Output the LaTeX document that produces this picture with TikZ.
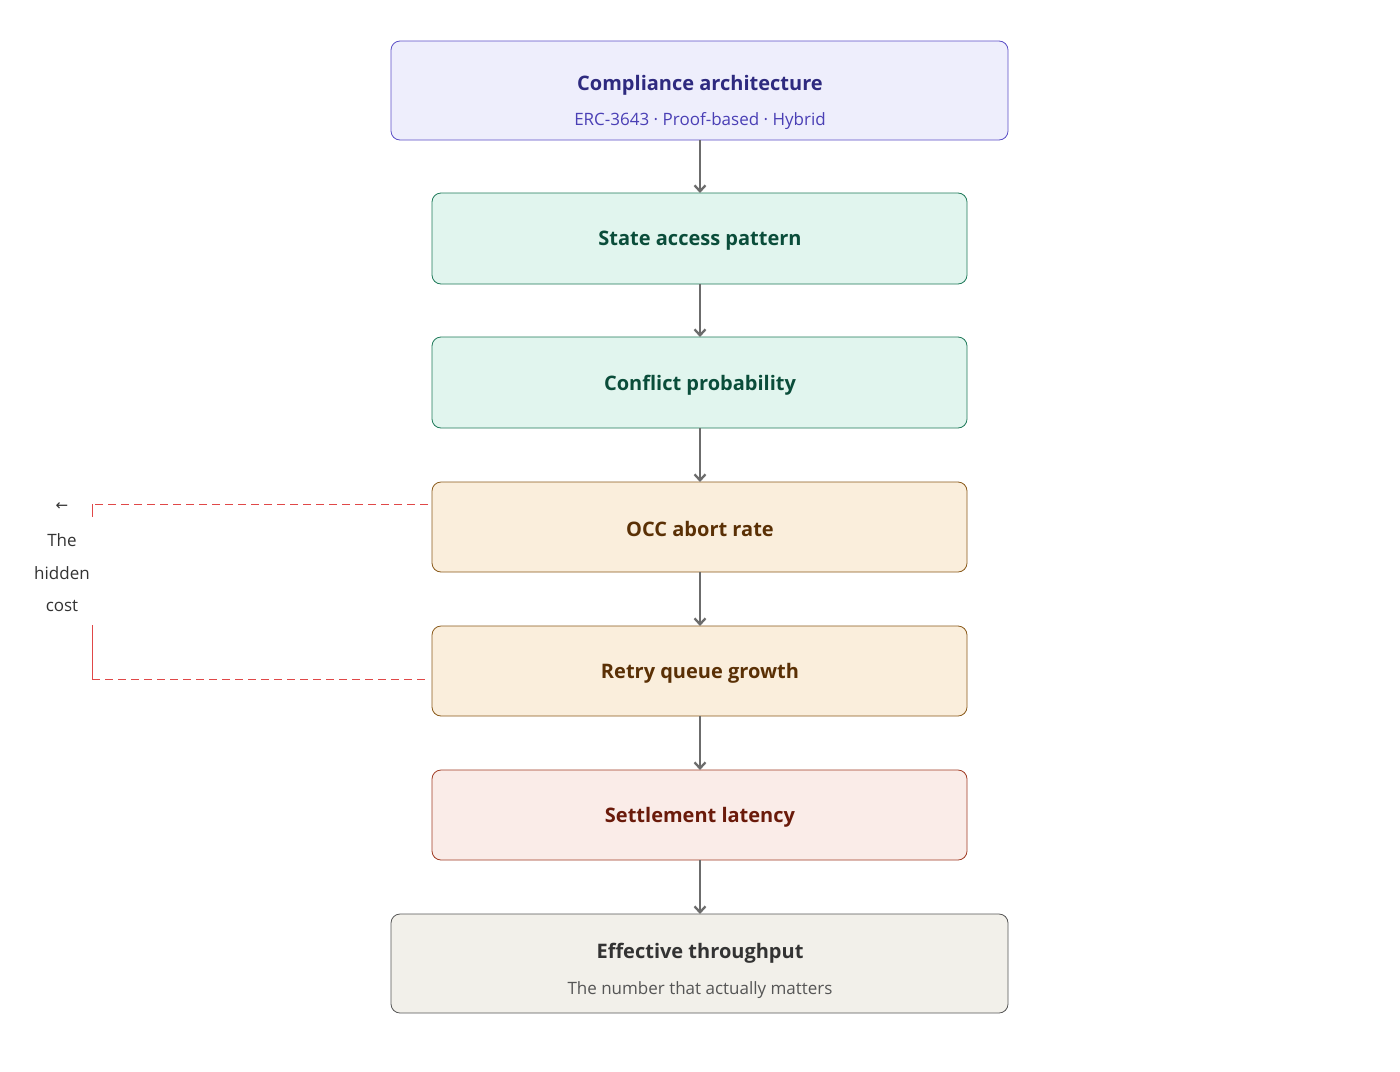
\documentclass[tikz,border=0pt]{standalone}
\usepackage{fontspec}
\setmainfont{Open Sans}
\newfontfamily\dv{DejaVu Sans}
\usetikzlibrary{arrows.meta}
\definecolor{pbg}{HTML}{EEEEFC}\definecolor{pst}{HTML}{5B4FC7}\definecolor{ptx}{HTML}{2E2A7F}\definecolor{psub}{HTML}{4A3FB5}
\definecolor{gbg}{HTML}{E1F5EE}\definecolor{gst}{HTML}{1F7A5A}\definecolor{gtx}{HTML}{0A4D3A}
\definecolor{obg}{HTML}{FAEEDC}\definecolor{ost}{HTML}{8A5A1A}\definecolor{otx}{HTML}{5A3005}
\definecolor{rbg}{HTML}{FAECE8}\definecolor{rst}{HTML}{A03A22}\definecolor{rtx}{HTML}{6A1A0A}
\definecolor{nbg}{HTML}{F2F0EA}\definecolor{nst}{HTML}{555555}\definecolor{ntx}{HTML}{333333}
\definecolor{dashred}{HTML}{E04848}
\begin{document}
\begin{tikzpicture}[x=1pt,y=-1pt,
 box/.style={rounded corners=9pt,line width=0.8pt},
 ttl/.style={font=\fontsize{20}{24}\selectfont\bfseries},
 sub/.style={font=\fontsize{17}{20}\selectfont},
 arr/.style={draw=gray!85!black,line width=2.3pt,-{Straight Barb[length=6pt,width=11pt]}},
 ann/.style={font=\fontsize{17}{20}\selectfont,text=ntx},
 red line/.style={draw=dashred,line width=0.8pt}]
\useasboundingbox (0,0) rectangle (1400,1071);
\fill[white] (0,0) rectangle (1400,1071);
\draw[box,fill=pbg,draw=pst] (391,41) rectangle (1008,140);
\node[ttl,text=ptx] (t1) at (700,85) {Compliance architecture};
\node[sub,text=psub] (s1) at (700,121) {ERC-3643 · Proof-based · Hybrid};
\draw[box,fill=gbg,draw=gst] (432,193) rectangle (967,284);
\node[ttl,text=gtx] (t2) at (700,241) {State access pattern};
\draw[box,fill=gbg,draw=gst] (432,337) rectangle (967,428);
\node[ttl,text=gtx] (t3) at (700,385) {Conflict probability};
\draw[box,fill=obg,draw=ost] (432,482) rectangle (967,572);
\node[ttl,text=otx] (t4) at (700,529) {OCC abort rate};
\draw[box,fill=obg,draw=ost] (432,626) rectangle (967,716);
\node[ttl,text=otx] (t5) at (700,673) {Retry queue growth};
\draw[box,fill=rbg,draw=rst] (432,770) rectangle (967,860);
\node[ttl,text=rtx] (t6) at (700,817) {Settlement latency};
\draw[box,fill=nbg,draw=nst] (391,914) rectangle (1008,1013);
\node[ttl,text=ntx] (t7) at (700,953) {Effective throughput};
\node[sub,text=nst] (s7) at (700,990) {The number that actually matters};
\coordinate (a1) at (700,140);\coordinate (b1) at (700,193);
\coordinate (a2) at (700,284);\coordinate (b2) at (700,337);
\coordinate (a3) at (700,428);\coordinate (b3) at (700,482);
\coordinate (a4) at (700,572);\coordinate (b4) at (700,626);
\coordinate (a5) at (700,716);\coordinate (b5) at (700,770);
\coordinate (a6) at (700,860);\coordinate (b6) at (700,914);
\foreach \i in {1,...,6}{\draw[arr] (a\i) -- (b\i);}
\coordinate (d1) at (428,504);\coordinate (d2) at (92,504);\coordinate (d3) at (92,517);
\coordinate (d4) at (92,625);\coordinate (d5) at (92,679);\coordinate (d6) at (428,679);
\draw[red line,dash pattern=on 8pt off 5pt] (d1) -- (d2);
\draw[red line] (d2) -- (d3);
\draw[red line] (d4) -- (d5);
\draw[red line,dash pattern=on 8pt off 5pt] (d5) -- (d6);
\node[ann,font=\dv\fontsize{15}{18}\selectfont] (ar) at (62,507) {←};
\node[ann] (h1) at (62,540) {The};
\node[ann] (h2) at (62,573) {hidden};
\node[ann] (h3) at (62,606) {cost};
\end{tikzpicture}
\end{document}
